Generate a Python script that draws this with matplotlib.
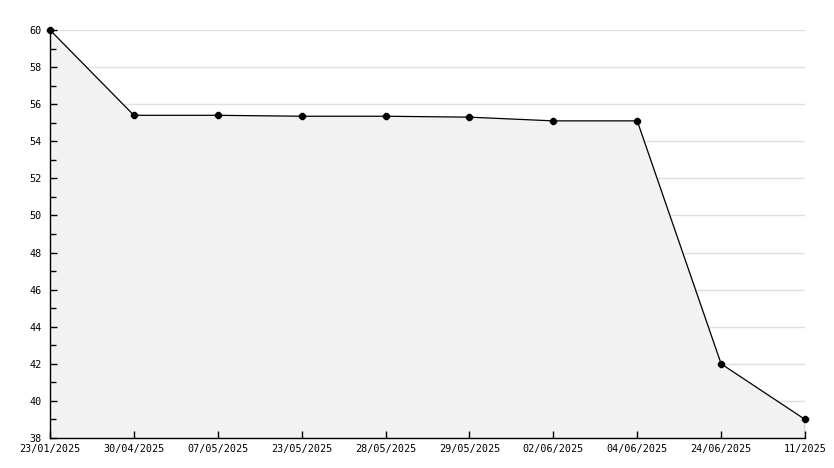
import matplotlib
matplotlib.use('Agg')
import matplotlib.pyplot as plt
import numpy as np

dates = ['23/01/2025', '30/04/2025', '07/05/2025', '23/05/2025', '28/05/2025',
         '29/05/2025', '02/06/2025', '04/06/2025', '24/06/2025', '11/2025']
values = [60.0, 55.4, 55.4, 55.35, 55.35, 55.3, 55.1, 55.1, 42.0, 39.0]
ymin, ymax = 38, 60

plt.rcParams['font.family'] = ['DejaVu Sans Mono']

fig = plt.figure(figsize=(8.34, 4.68), dpi=100)
ax = fig.add_axes([50 / 834, 30 / 468, 755 / 834, 408 / 468])

x = np.arange(len(values))
ax.fill_between(x, values, ymin, color='#f2f2f2', zorder=1)
ax.plot(x, values, color='black', lw=0.9, zorder=3)
# right edge of the filled area
ax.plot([x[-1], x[-1]], [ymin, values[-1]], color='black', lw=0.9, zorder=3)
ax.plot(x, values, ls='none', color='black', marker='8', ms=5, zorder=4,
        clip_on=False)

ax.set_xlim(0, len(values) - 1)
ax.set_ylim(ymin, ymax)
ax.set_xticks(x)
ax.set_xticklabels(dates)
ax.set_yticks(np.arange(ymin, ymax + 1, 2))
ax.set_yticks(np.arange(ymin + 1, ymax, 2), minor=True)

for y in range(ymin + 2, ymax + 1, 2):
    ax.axhline(y, color='#e0e0e0', lw=1, zorder=0)

for s in ['top', 'right']:
    ax.spines[s].set_visible(False)
for s in ['left', 'bottom']:
    ax.spines[s].set_color('black')
    ax.spines[s].set_linewidth(1)
    ax.spines[s].set_zorder(5)

ax.tick_params(axis='both', which='major', direction='in', length=5, width=1,
               labelsize=7.3, colors='black')
ax.tick_params(axis='y', which='major', pad=6)
ax.tick_params(axis='x', which='major', pad=4)
ax.tick_params(axis='y', which='minor', direction='in', length=4, width=1)

fig.savefig('out.png', dpi=100)
